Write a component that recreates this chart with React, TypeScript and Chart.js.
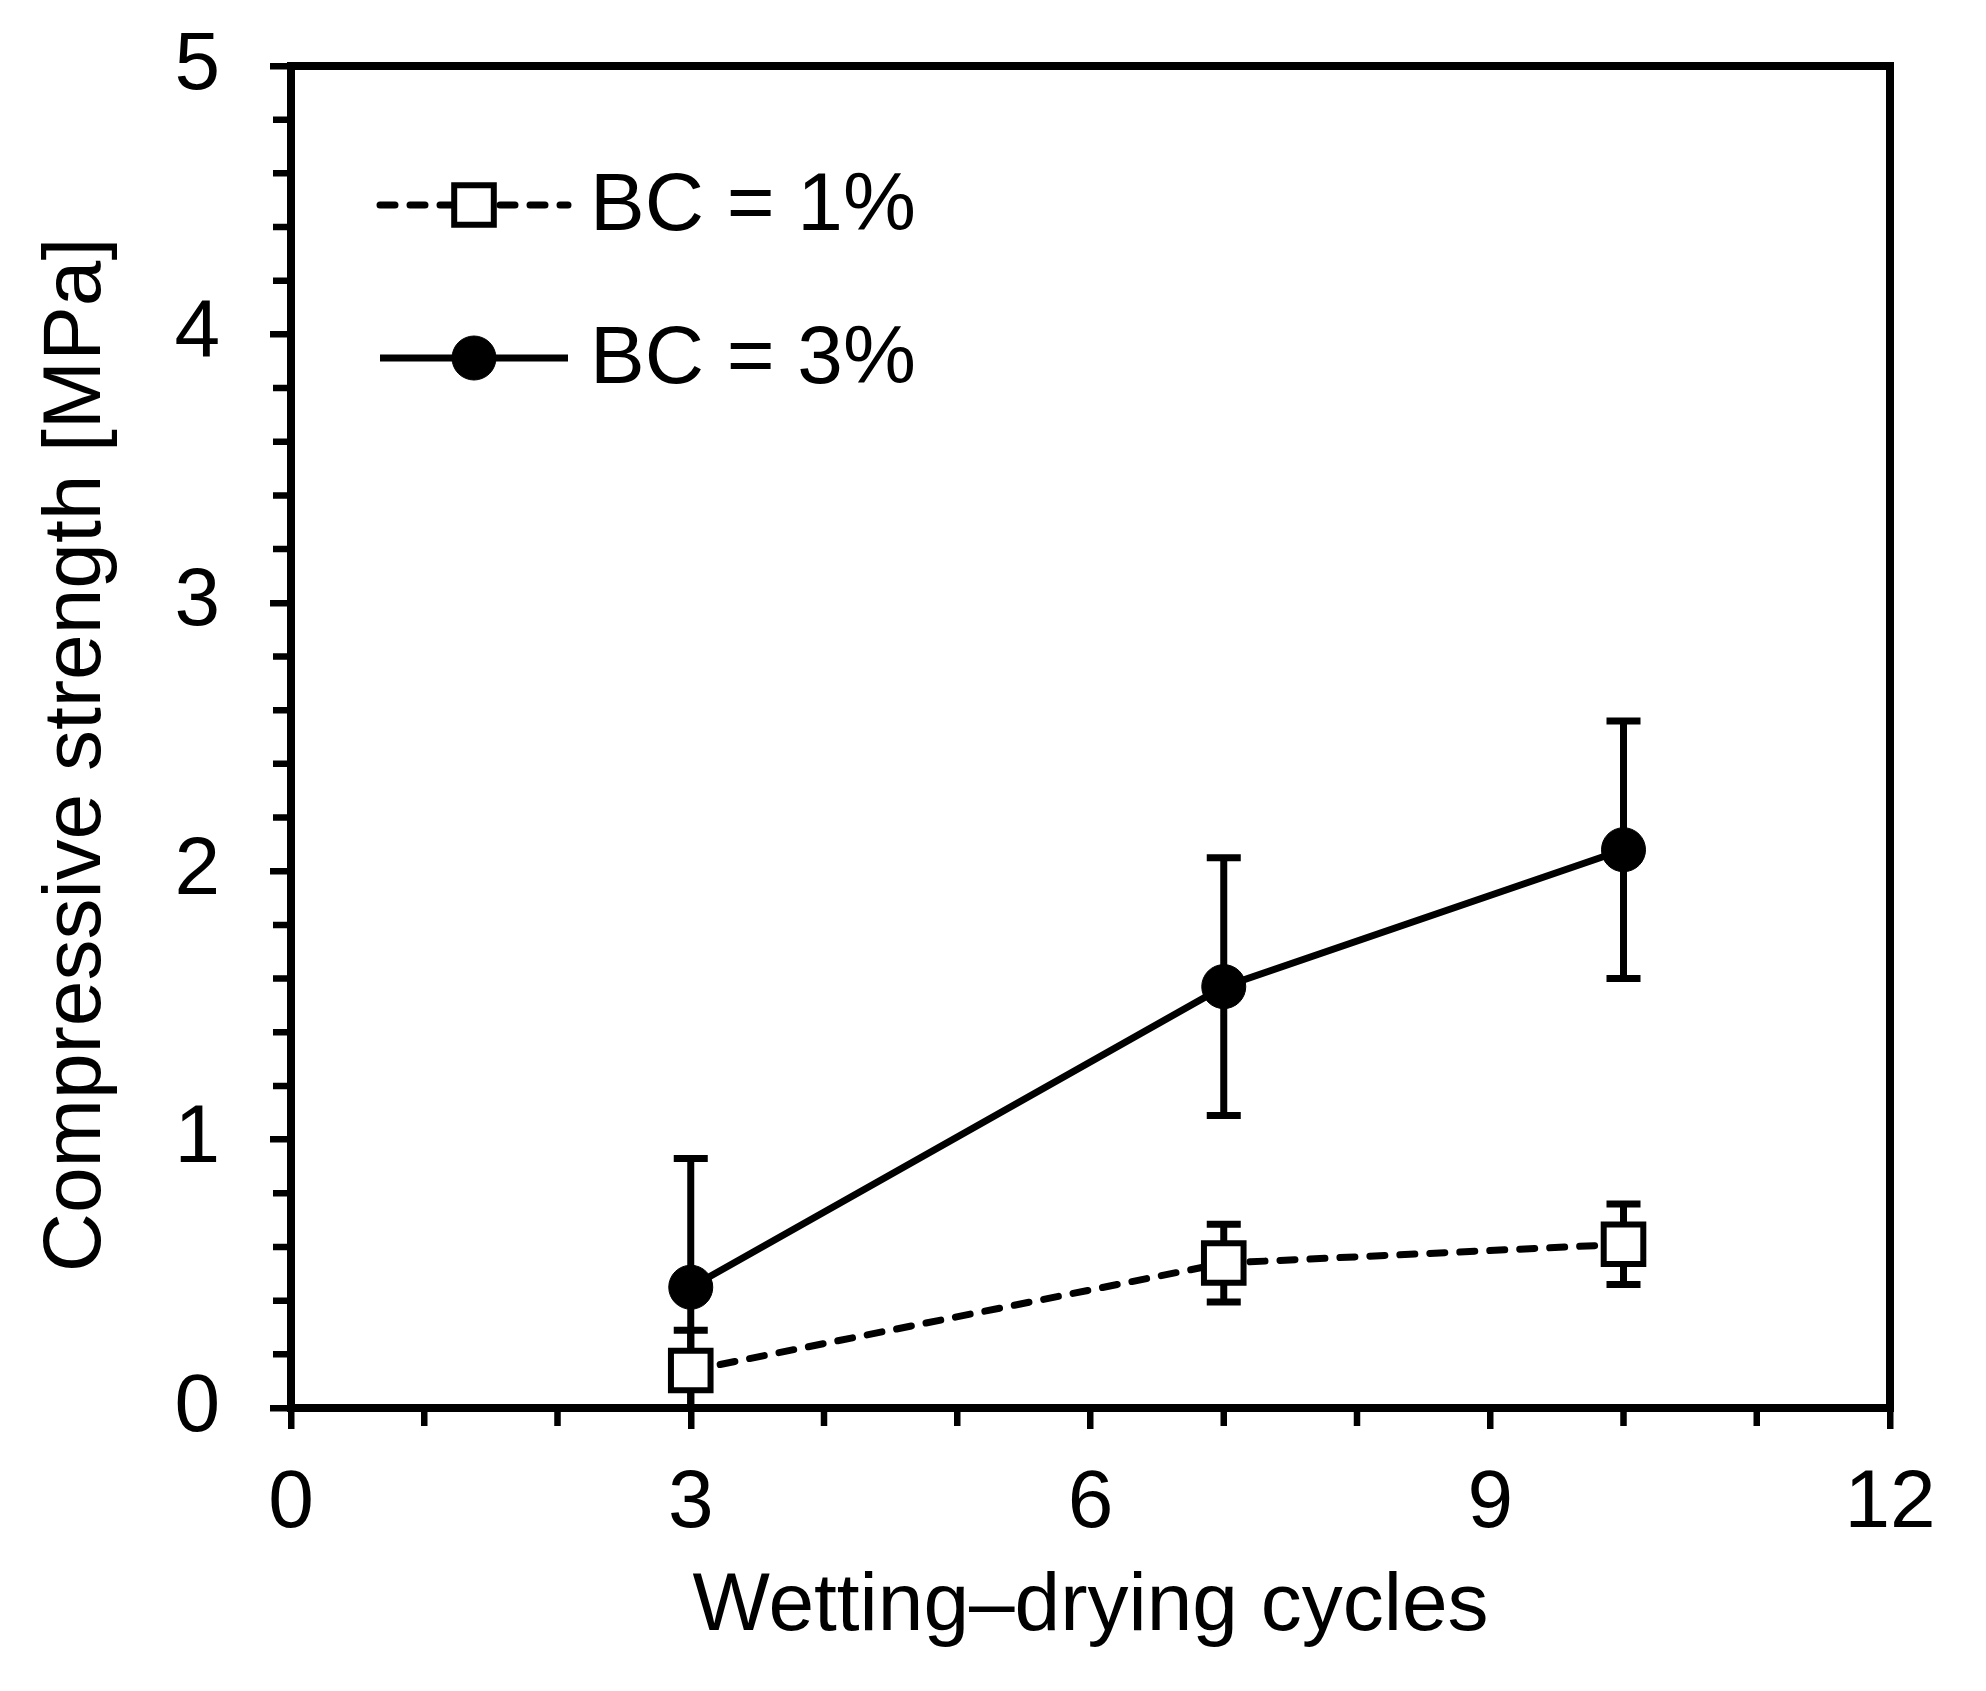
import { useEffect, useRef } from 'react';
import { Chart, registerables } from 'chart.js';
import { drawPoint } from 'chart.js/helpers';

Chart.register(...registerables);

const FONT = "'Liberation Sans', Arial, sans-serif";

// wetting-drying cycles
const CYCLES = [3, 7, 10];

// BC = 1 %
const BC1_MEAN = [0.14, 0.54, 0.61];
const BC1_ERR = [0.15, 0.145, 0.15];

// BC = 3 %
const BC3_MEAN = [0.45, 1.57, 2.08];
const BC3_ERR = [0.48, 0.48, 0.48];

const LABELS = ['BC = 1%', 'BC = 3%'];
const X_TITLE = 'Wetting–drying cycles';
const Y_TITLE = 'Compressive strength [MPa]';

const X_MINOR = [1, 2, 4, 5, 7, 8, 10, 11];
const Y_MINOR = [0.2, 0.4, 0.6, 0.8, 1.2, 1.4, 1.6, 1.8, 2.2, 2.4, 2.6, 2.8, 3.2, 3.4, 3.6, 3.8, 4.2, 4.4, 4.6, 4.8];

const W = 1986;
const H = 1691;

const toPoints = (xs: number[], ys: number[]) => xs.map((x, i) => ({ x, y: ys[i] }));

// vertical error bars, drawn under the markers
const errorBars = {
  id: 'errorBars',
  beforeDatasetsDraw(chart: any) {
    const { ctx, chartArea: a, scales: { x, y } } = chart;
    ctx.save();
    ctx.beginPath();
    ctx.rect(a.left, a.top, a.right - a.left, a.bottom - a.top);
    ctx.clip();
    ctx.strokeStyle = '#000';
    ctx.lineWidth = 7;
    chart.data.datasets.forEach((ds: any) => {
      ds.data.forEach((p: any, i: number) => {
        const e = ds.errors[i];
        const px = x.getPixelForValue(p.x);
        const top = y.getPixelForValue(p.y + e);
        const bot = y.getPixelForValue(p.y - e);
        ctx.beginPath();
        ctx.moveTo(px, top);
        ctx.lineTo(px, bot);
        ctx.moveTo(px - 17, top);
        ctx.lineTo(px + 17, top);
        ctx.moveTo(px - 17, bot);
        ctx.lineTo(px + 17, bot);
        ctx.stroke();
      });
    });
    ctx.restore();
  },
};

// top/right frame, minor ticks, y title, legend
const decor = {
  id: 'decor',
  afterDraw(chart: any) {
    const { ctx, chartArea: a, scales: { x, y } } = chart;
    ctx.save();
    ctx.strokeStyle = '#000';
    ctx.lineCap = 'square';
    ctx.lineWidth = 8;
    ctx.beginPath();
    ctx.moveTo(a.left, a.top);
    ctx.lineTo(a.right, a.top);
    ctx.lineTo(a.right, a.bottom);
    ctx.stroke();

    ctx.lineCap = 'butt';
    ctx.lineWidth = 6.5;
    ctx.beginPath();
    Y_MINOR.forEach((v) => {
      const py = y.getPixelForValue(v);
      ctx.moveTo(a.left - 18, py);
      ctx.lineTo(a.left, py);
    });
    X_MINOR.forEach((v) => {
      const px = x.getPixelForValue(v);
      ctx.moveTo(px, a.bottom);
      ctx.lineTo(px, a.bottom + 18);
    });
    ctx.stroke();

    // y axis title
    ctx.fillStyle = '#000';
    ctx.font = `82px ${FONT}`;
    ctx.textAlign = 'center';
    ctx.textBaseline = 'middle';
    ctx.save();
    ctx.translate(77, (a.top + a.bottom) / 2 + 18);
    ctx.rotate(-Math.PI / 2);
    ctx.fillText(Y_TITLE, 0, 0);
    ctx.restore();

    // legend: line + marker + text
    chart.data.datasets.forEach((ds: any, i: number) => {
      const ly = a.top + 139 + i * 153;
      const x0 = a.left + 89;
      const x1 = a.left + 277;
      ctx.save();
      ctx.lineWidth = ds.borderWidth;
      ctx.lineCap = ds.borderDash.length ? 'round' : 'butt';
      ctx.setLineDash(ds.borderDash);
      ctx.beginPath();
      ctx.moveTo(x0, ly);
      ctx.lineTo(x1, ly);
      ctx.stroke();
      ctx.restore();
      ctx.save();
      ctx.fillStyle = ds.pointBackgroundColor;
      ctx.strokeStyle = ds.pointBorderColor;
      ctx.lineWidth = ds.pointBorderWidth;
      drawPoint(ctx, { pointStyle: ds.pointStyle, radius: ds.pointRadius, borderWidth: ds.pointBorderWidth, rotation: 0 } as any, a.left + 183, ly);
      ctx.restore();
      ctx.fillStyle = '#000';
      ctx.textAlign = 'left';
      ctx.textBaseline = 'middle';
      ctx.fillText(LABELS[i], a.left + 299, ly + 2);
    });
    ctx.restore();
  },
};

export default function App() {
  const canvasRef = useRef<HTMLCanvasElement>(null);
  const chartRef = useRef<Chart | null>(null);

  useEffect(() => {
    document.body.style.margin = '0';
    document.body.style.background = '#fff';
    if (!canvasRef.current) return;
    chartRef.current?.destroy();
    chartRef.current = new Chart(canvasRef.current, {
      type: 'line',
      data: {
        datasets: [
          {
            label: LABELS[0],
            data: toPoints(CYCLES, BC1_MEAN),
            errors: BC1_ERR,
            borderColor: '#000',
            borderWidth: 7,
            borderDash: [15, 15],
            borderCapStyle: 'round',
            pointStyle: 'rect',
            pointRadius: 28,
            pointBackgroundColor: '#fff',
            pointBorderColor: '#000',
            pointBorderWidth: 6,
          },
          {
            label: LABELS[1],
            data: toPoints(CYCLES, BC3_MEAN),
            errors: BC3_ERR,
            borderColor: '#000',
            borderWidth: 7,
            borderDash: [],
            pointStyle: 'circle',
            pointRadius: 22,
            pointBackgroundColor: '#000',
            pointBorderColor: '#000',
            pointBorderWidth: 1,
          },
        ] as any,
      },
      options: {
        animation: false,
        responsive: false,
        devicePixelRatio: 1,
        layout: { padding: { left: 0, top: 66, right: W - 1890, bottom: 0 }, autoPadding: false },
        plugins: { legend: { display: false }, tooltip: { enabled: false } },
        scales: {
          x: {
            type: 'linear',
            min: 0,
            max: 12,
            border: { display: true, width: 8, color: '#000' },
            grid: { drawOnChartArea: false, drawTicks: true, tickLength: 21, tickWidth: 6.5, lineWidth: 6.5, color: '#000', tickColor: '#000' },
            ticks: { stepSize: 3, padding: 34, color: '#000', font: { family: FONT, size: 82, lineHeight: 1 }, maxRotation: 0 },
            title: { display: true, text: X_TITLE, color: '#000', font: { family: FONT, size: 82, lineHeight: 1 }, padding: { top: 0, bottom: 43 } },
            afterFit: (s: any) => { s.height = H - 1408; s.paddingLeft = 0; s.paddingRight = 0; },
          },
          y: {
            type: 'linear',
            min: 0,
            max: 5,
            border: { display: true, width: 8, color: '#000' },
            grid: { drawOnChartArea: false, drawTicks: true, tickLength: 21, tickWidth: 6.5, lineWidth: 6.5, color: '#000', tickColor: '#000' },
            ticks: { stepSize: 1, padding: 50, color: '#000', font: { family: FONT, size: 82, lineHeight: 1 } },
            afterFit: (s: any) => { s.width = 291; s.paddingTop = 0; s.paddingBottom = 0; },
          },
        },
      },
      plugins: [errorBars, decor],
    } as any);
    return () => { chartRef.current?.destroy(); chartRef.current = null; };
  }, []);

  return (
    <div style={{ width: W, height: H, background: '#fff' }}>
      <canvas ref={canvasRef} width={W} height={H} />
    </div>
  );
}
